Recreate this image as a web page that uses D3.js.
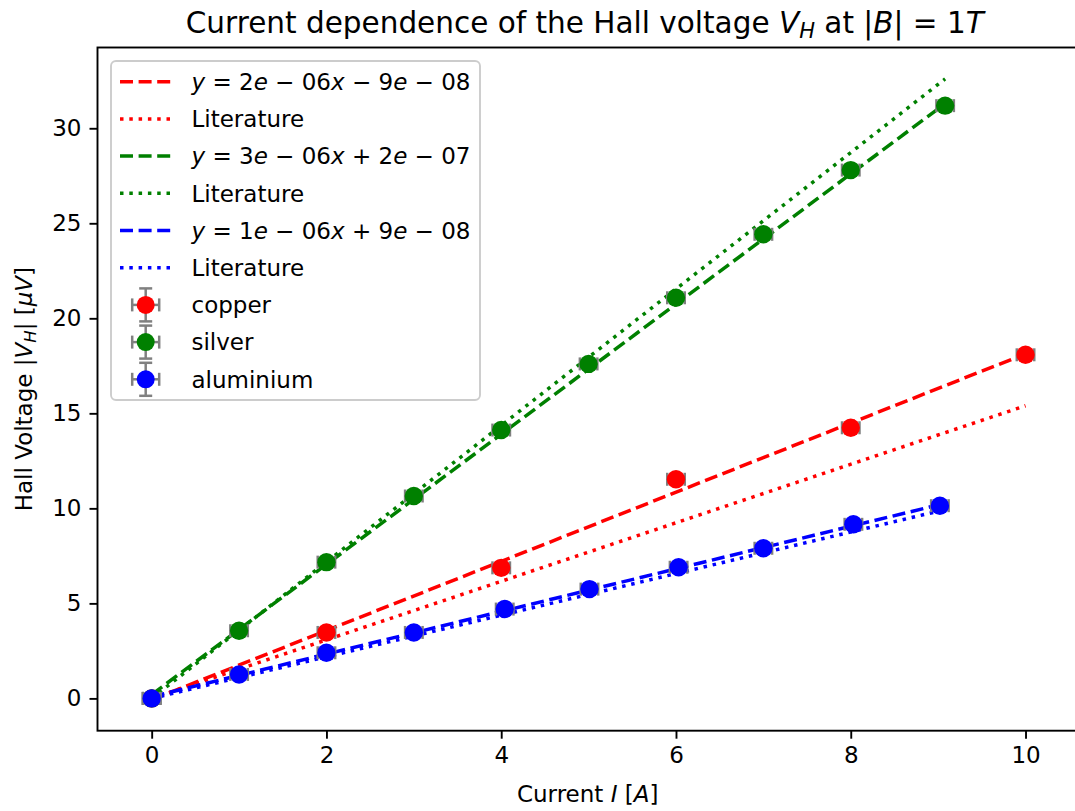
<!DOCTYPE html>
<html>
<head>
<meta charset="utf-8">
<script src="https://cdn.jsdelivr.net/npm/d3@7"></script>
<style>
  body { margin: 0; background: #fff; }
  svg text { font-family: "DejaVu Sans", sans-serif; fill: #000; }
</style>
</head>
<body>
<svg id="chart"></svg>
<script>
// Hall voltage vs current for three metals, values in µV

const copperI = [0, 2, 4, 6, 8, 10];
const copperV = [0, 3.47, 6.87, 11.53, 14.24, 18.08];
const silverI = [0, 1, 2, 3, 4, 5, 6, 7, 8, 9.08];
const silverV = [0, 3.56, 7.17, 10.65, 14.12, 17.6, 21.08, 24.42, 27.8, 31.19];
const aluI = [0, 1, 2, 3, 4.04, 5.01, 6.03, 7.0, 8.03, 9.02];
const aluV = [0, 1.26, 2.4, 3.47, 4.7, 5.75, 6.9, 7.9, 9.16, 10.14];

const xErr = 0.1;
const yErr = 0.2;

// fit and literature lines: [start, end] points
const copperFit = [[0, -0.07], [10, 18.13]];
const copperLit = [[0, 0], [10, 15.4]];
const silverFit = [[0, 0.2], [9.08, 31.3]];
const silverLit = [[0, 0], [9.08, 32.6]];
const aluFit = [[0, 0.09], [9.02, 10.2]];
const aluLit = [[0, 0], [9.02, 9.87]];

const xTicks = [0, 2, 4, 6, 8, 10];
const yTicks = [0, 5, 10, 15, 20, 25, 30];

const width = 1075;
const height = 811;
const margin = {left: 97.5, top: 47.5, right: -4.7, bottom: 80.3};

const svg = d3.select("#chart")
    .attr("width", width)
    .attr("height", height);

const x = d3.scaleLinear()
    .domain([-0.62, 10.62])
    .range([margin.left, width - margin.right]);

const y = d3.scaleLinear()
    .domain([-1.7, 34.25])
    .range([height - margin.bottom, margin.top]);

const line = d3.line().x(d => x(d[0])).y(d => y(d[1]));

const dashed = "13,5.6";
const dotted = "3.5,5.8";

const lineSets = [
    {data: copperFit, color: "red", dash: dashed},
    {data: copperLit, color: "red", dash: dotted},
    {data: silverFit, color: "green", dash: dashed},
    {data: silverLit, color: "green", dash: dotted},
    {data: aluFit, color: "blue", dash: dashed},
    {data: aluLit, color: "blue", dash: dotted}
];

const plot = svg.append("g");

lineSets.forEach(s => {
    plot.append("path")
        .attr("d", line(s.data))
        .attr("fill", "none")
        .attr("stroke", s.color)
        .attr("stroke-width", 3.5)
        .attr("stroke-dasharray", s.dash);
});

const series = [
    {name: "copper", color: "red", xs: copperI, ys: copperV},
    {name: "silver", color: "green", xs: silverI, ys: silverV},
    {name: "aluminium", color: "blue", xs: aluI, ys: aluV}
];

function drawErrorPoint(g, cx, cy, hx, hy, cap, r, color) {
    const grey = "#808080";
    g.append("line").attr("x1", cx - hx).attr("x2", cx + hx).attr("y1", cy).attr("y2", cy)
        .attr("stroke", grey).attr("stroke-width", 2.5);
    g.append("line").attr("x1", cx).attr("x2", cx).attr("y1", cy - hy).attr("y2", cy + hy)
        .attr("stroke", grey).attr("stroke-width", 2.5);
    [-hx, hx].forEach(d => {
        g.append("line").attr("x1", cx + d).attr("x2", cx + d).attr("y1", cy - cap).attr("y2", cy + cap)
            .attr("stroke", grey).attr("stroke-width", 2.5);
    });
    [-hy, hy].forEach(d => {
        g.append("line").attr("x1", cx - cap).attr("x2", cx + cap).attr("y1", cy + d).attr("y2", cy + d)
            .attr("stroke", grey).attr("stroke-width", 2.5);
    });
    g.append("circle").attr("cx", cx).attr("cy", cy).attr("r", r).attr("fill", color);
}

series.forEach(s => {
    const g = plot.append("g");
    s.xs.forEach((xi, i) => {
        const cx = x(xi), cy = y(s.ys[i]);
        const hx = x(xi + xErr) - cx;
        const hy = cy - y(s.ys[i] + yErr);
        drawErrorPoint(g, cx, cy, hx, hy, 6.5, 9.2, s.color);
    });
});

// spines (right one falls just outside the picture)
const axisColor = "#000";
svg.append("rect")
    .attr("x", margin.left)
    .attr("y", margin.top)
    .attr("width", width - margin.right - margin.left)
    .attr("height", height - margin.bottom - margin.top)
    .attr("fill", "none")
    .attr("stroke", axisColor)
    .attr("stroke-width", 1.9);

const xAxis = svg.append("g")
    .attr("transform", `translate(0,${height - margin.bottom})`)
    .call(d3.axisBottom(x).tickValues(xTicks).tickSize(8).tickPadding(8).tickFormat(d3.format("d")));
const yAxis = svg.append("g")
    .attr("transform", `translate(${margin.left},0)`)
    .call(d3.axisLeft(y).tickValues(yTicks).tickSize(8).tickPadding(8).tickFormat(d3.format("d")));

[xAxis, yAxis].forEach(a => {
    a.select(".domain").remove();
    a.selectAll(".tick line").attr("stroke", axisColor).attr("stroke-width", 1.9);
    a.selectAll(".tick text").attr("font-size", 23).attr("font-family", "DejaVu Sans").attr("fill", "#000");
});

// title
const title = svg.append("text")
    .attr("x", (margin.left + 1072) / 2)
    .attr("y", 33)
    .attr("text-anchor", "middle")
    .attr("font-size", 29.5);
title.append("tspan").text("Current dependence of the Hall voltage ");
title.append("tspan").attr("font-style", "italic").text("V");
title.append("tspan").attr("font-style", "italic").attr("font-size", 21).attr("dy", 5).text("H");
title.append("tspan").attr("dy", -5).text(" at |");
title.append("tspan").attr("font-style", "italic").text("B");
title.append("tspan").text("| = 1");
title.append("tspan").attr("font-style", "italic").text("T");

// axis labels
const xl = svg.append("text")
    .attr("x", (margin.left + 1072) / 2 + 3)
    .attr("y", 802)
    .attr("text-anchor", "middle")
    .attr("font-size", 23);
xl.append("tspan").text("Current ");
xl.append("tspan").attr("font-style", "italic").text("I");
xl.append("tspan").text(" [");
xl.append("tspan").attr("font-style", "italic").text("A");
xl.append("tspan").text("]");

const yl = svg.append("text")
    .attr("transform", `translate(32,${(margin.top + height - margin.bottom) / 2}) rotate(-90)`)
    .attr("text-anchor", "middle")
    .attr("font-size", 23);
yl.append("tspan").text("Hall Voltage |");
yl.append("tspan").attr("font-style", "italic").text("V");
yl.append("tspan").attr("font-style", "italic").attr("font-size", 16.5).attr("dy", 4).text("H");
yl.append("tspan").attr("dy", -4).text("| [");
yl.append("tspan").attr("font-style", "italic").text("μV");
yl.append("tspan").text("]");

// legend
const legend = svg.append("g");
legend.append("rect")
    .attr("x", 111).attr("y", 61)
    .attr("width", 369).attr("height", 339)
    .attr("rx", 5)
    .attr("fill", "white").attr("fill-opacity", 0.8)
    .attr("stroke", "#cccccc").attr("stroke-width", 1.9);

const fitLabels = [
    ["y", " = 2", "e", " − 06", "x", " − 9", "e", " − 08"],
    ["y", " = 3", "e", " − 06", "x", " + 2", "e", " − 07"],
    ["y", " = 1", "e", " − 06", "x", " + 9", "e", " − 08"]
];
const rowY0 = 81.7;
const rowStep = 37.2;
const textX = 191.5;

lineSets.forEach((s, i) => {
    const ry = rowY0 + i * rowStep;
    legend.append("line")
        .attr("x1", 120).attr("x2", 171).attr("y1", ry).attr("y2", ry)
        .attr("stroke", s.color).attr("stroke-width", 3.5)
        .attr("stroke-dasharray", s.dash);
    const t = legend.append("text")
        .attr("x", textX).attr("y", ry + 8.3)
        .attr("font-size", 23);
    if (i % 2 === 0) {
        fitLabels[i / 2].forEach((part, k) => {
            t.append("tspan")
                .attr("font-style", k % 2 === 0 ? "italic" : "normal")
                .text(part);
        });
    } else {
        t.text("Literature");
    }
});

series.forEach((s, i) => {
    const ry = rowY0 + (6 + i) * rowStep;
    drawErrorPoint(legend, 145.7, ry, 13.5, 16.5, 6.5, 9, s.color);
    legend.append("text")
        .attr("x", textX).attr("y", ry + 8.3)
        .attr("font-size", 23)
        .text(s.name);
});
</script>
</body>
</html>
